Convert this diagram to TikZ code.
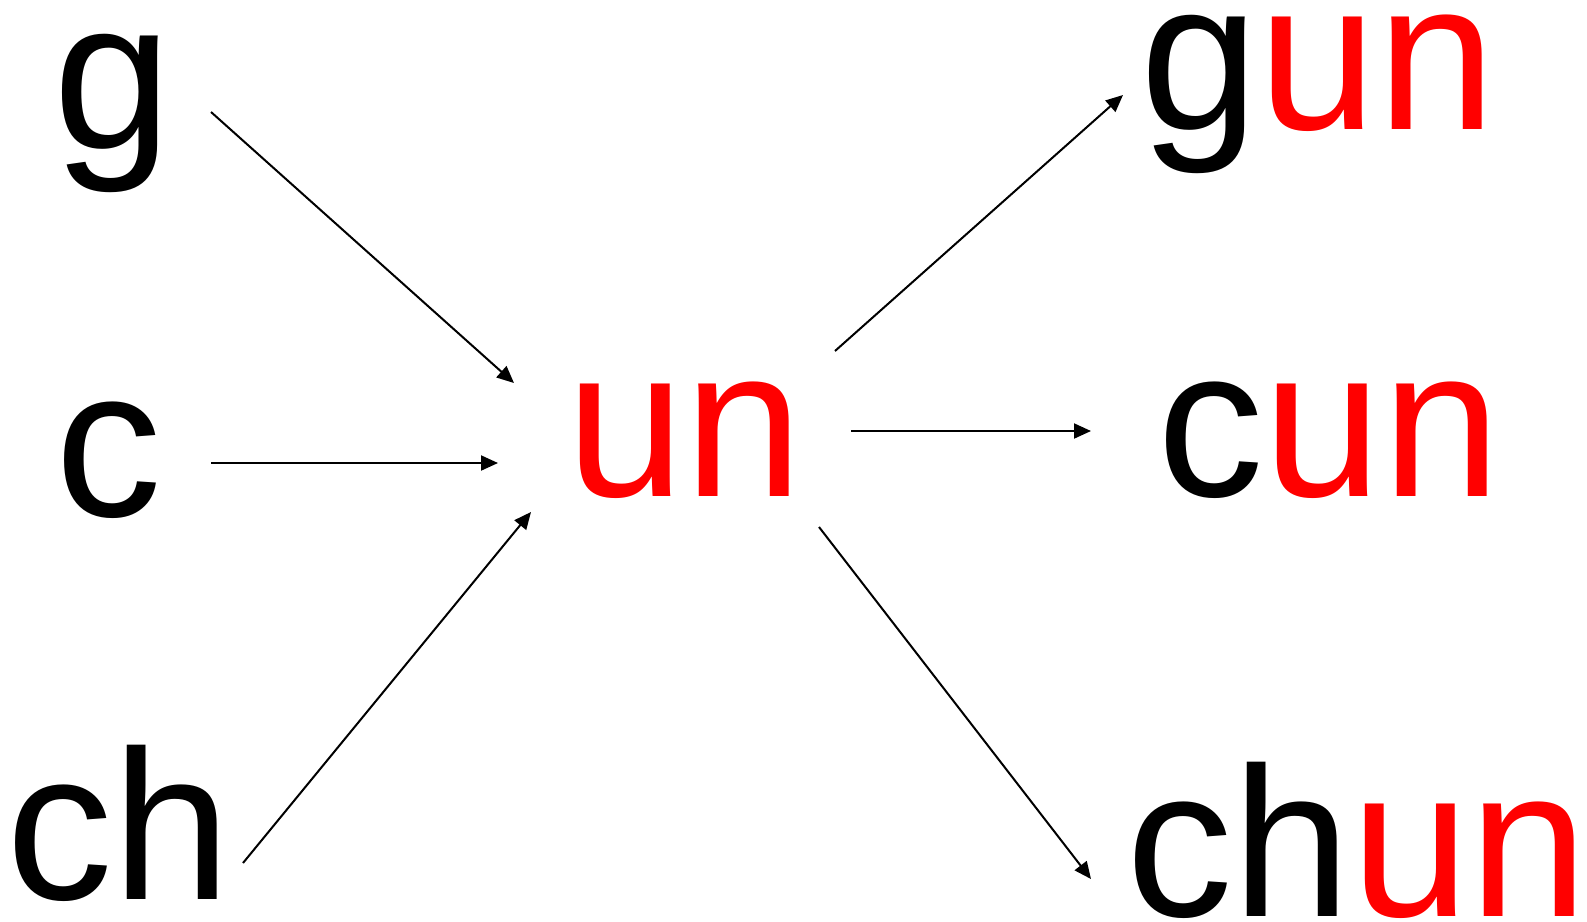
\documentclass[tikz,border=0pt]{standalone}
\usepackage{fontspec}
\setmainfont{Liberation Sans}
\usetikzlibrary{arrows.meta}
\definecolor{stemred}{RGB}{255,0,0}

\begin{document}
\begin{tikzpicture}[x=1pt,y=-1pt,
  syl/.style={inner sep=0pt,anchor=base west,font=\fontsize{213}{250}\selectfont},
  link/.style={line width=2pt,-{Triangle[length=17pt,width=15pt]}}]
\useasboundingbox (0,0) rectangle (1587,921);
% onsets
\node[syl] (g) at (53,148) {g};
\node[syl] (c) at (55,516) {c};
\node[syl] (ch) at (6,899) {ch};
% rhyme
\node[syl,text=stemred] (un) at (566,496) {un};
% results
\node[syl] (gun) at (1140,129) {g\textcolor{stemred}{un}};
\node[syl] (cun) at (1157,496) {c\textcolor{stemred}{un}};
\node[syl] (chun) at (1126,916) {ch\textcolor{stemred}{un}};
% arrow ends
\coordinate (g-out) at (211,112);
\coordinate (c-out) at (211,463);
\coordinate (ch-out) at (243,863);
\coordinate (un-g) at (514,383);
\coordinate (un-c) at (498,463);
\coordinate (un-ch) at (531,512);
\coordinate (un-out1) at (835,351);
\coordinate (un-out2) at (851,431);
\coordinate (un-out3) at (819,527);
\coordinate (gun-in) at (1123,95);
\coordinate (cun-in) at (1091,431);
\coordinate (chun-in) at (1091,879);
\draw[link] (g-out) -- (un-g);
\draw[link] (c-out) -- (un-c);
\draw[link] (ch-out) -- (un-ch);
\draw[link] (un-out1) -- (gun-in);
\draw[link] (un-out2) -- (cun-in);
\draw[link] (un-out3) -- (chun-in);
\end{tikzpicture}
\end{document}
